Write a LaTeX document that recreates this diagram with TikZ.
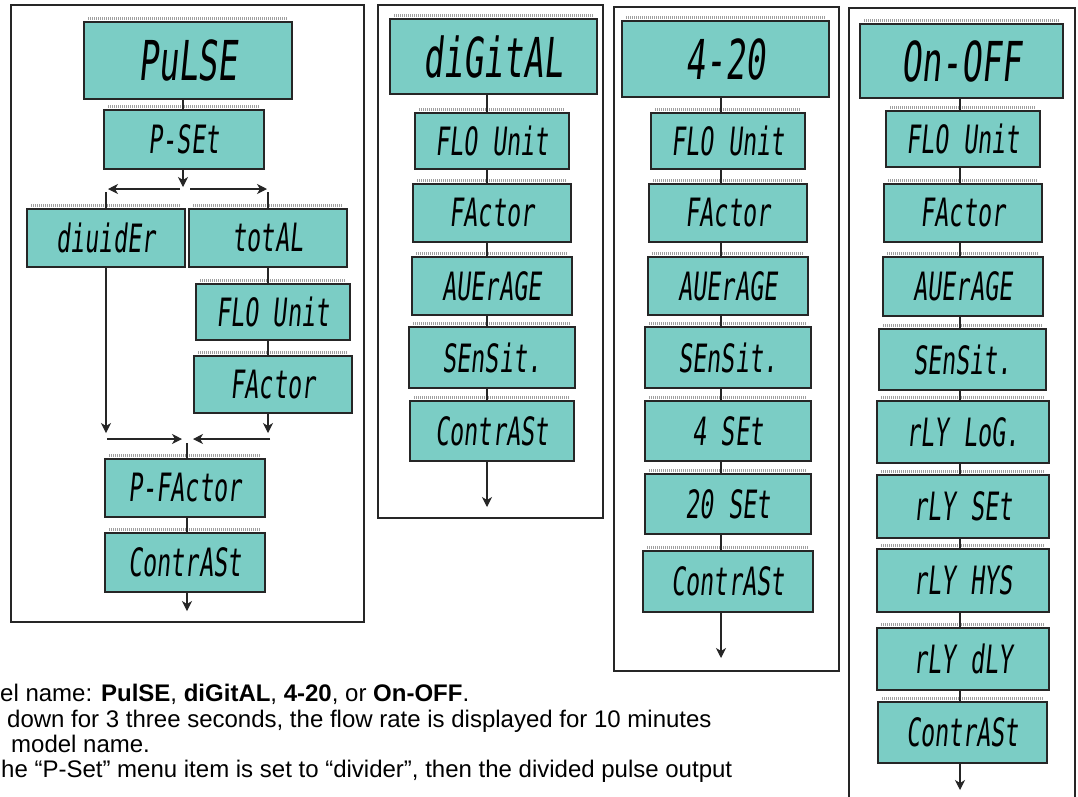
\documentclass[tikz,border=0pt]{standalone}
\usepackage{fontspec}
\setmainfont{Liberation Sans}
\newfontfamily\lcdfont{DejaVu Sans Mono}[FakeSlant=0.1,FakeStretch=0.6]
\usetikzlibrary{arrows.meta,calc}
\definecolor{lcdfill}{RGB}{123,205,197}
\definecolor{edge}{RGB}{38,38,38}
\tikzset{
  lcd/.style={draw=edge, line width=1.4pt, fill=lcdfill, inner sep=0pt,
    font=\lcdfont\fontsize{39}{39}\selectfont},
  lcdbig/.style={lcd, font=\lcdfont\fontsize{55}{55}\selectfont},
  panel/.style={draw=edge, line width=1.2pt},
  link/.style={draw=edge, line width=1.1pt},
  arr/.style={link, -{Stealth[length=10pt,width=10pt,inset=3pt]}},
  hatch/.style={draw=gray!75, line width=2.5pt, dash pattern=on 0.8pt off 1.2pt},
  note/.style={anchor=base west, inner sep=0pt, font=\fontsize{24}{26}\selectfont}
}
\newcommand{\lcdbox}[7][lcd]{%
  \node[#1, minimum width={(#5-#3)*1pt}, minimum height={(#6-#4)*1pt}]
    (#2) at ({(#3+#5)/2},{(#4+#6)/2}) {#7};
  \draw[hatch] ([xshift=5pt,yshift=3pt]#2.north west) -- ([xshift=-5pt,yshift=3pt]#2.north east);
}
\begin{document}
\begin{tikzpicture}[x=1pt,y=-1pt]
\useasboundingbox[fill=white] (0,0) rectangle (1078,796);

% ---------- panels
\draw[panel] (11,5) rectangle (364,622);
\draw[panel] (378,5) rectangle (603,518);
\draw[panel] (614,7) rectangle (839,671);
\draw[panel] (849,800) -- (849,8) -- (1075,8) -- (1075,800);

% ---------- panel 1 : PuLSE
\lcdbox[lcdbig]{pulse}{84}{22}{292}{99}{PuLSE}
\lcdbox{pset}{104}{110}{264}{169}{P-SEt}
\lcdbox{diuider}{27}{209}{185}{267}{diuidEr}
\lcdbox{total}{189}{209}{347}{267}{totAL}
\lcdbox{flo1}{196}{284}{350}{340}{FLO Unit}
\lcdbox{fac1}{194}{356}{352}{413}{FActor}
\lcdbox{pfac}{105}{459}{265}{517}{P-FActor}
\lcdbox{con1}{105}{533}{265}{592}{ContrASt}

\coordinate (c1) at (183,0);
\coordinate (split) at (183,187);
\draw[link] (pulse.south -| c1) -- (pset.north -| c1);
\draw[arr] (pset.south -| c1) -- (split);
\coordinate (sl0) at (180,189); \coordinate (sl1) at (108,189);
\coordinate (sr0) at (190,189); \coordinate (sr1) at (267,189);
\draw[arr] (sl0) -- (sl1);
\draw[arr] (sr0) -- (sr1);
\coordinate (dl) at (106,192); \coordinate (dr) at (268,192);
\draw[link] (dl) -- (dl |- diuider.north);
\draw[link] (dr) -- (dr |- total.north);
\coordinate (d1) at (106,433); \coordinate (d2) at (268,433);
\draw[arr] (diuider.south -| d1) -- (d1);
\draw[link] (total.south -| dr) -- (flo1.north -| dr);
\draw[link] (flo1.south -| dr) -- (fac1.north -| dr);
\draw[arr] (fac1.south -| d2) -- (d2);
\coordinate (ml0) at (107,439); \coordinate (ml1) at (182,439);
\coordinate (mr0) at (270,439); \coordinate (mr1) at (193,439);
\draw[arr] (ml0) -- (ml1);
\draw[arr] (mr0) -- (mr1);
\coordinate (mj) at (187,443);
\draw[link] (mj) -- (mj |- pfac.north);
\draw[link] (pfac.south -| mj) -- (con1.north -| mj);
\coordinate (e1) at (187,611);
\draw[arr] (con1.south -| e1) -- (e1);

% ---------- panel 2 : diGitAL
\lcdbox[lcdbig]{digital}{390}{19}{597}{94}{diGitAL}
\lcdbox{flo2}{415}{113}{569}{169}{FLO Unit}
\lcdbox{fac2}{413}{184}{571}{242}{FActor}
\lcdbox{avg2}{412}{257}{572}{315}{AUErAGE}
\lcdbox{sen2}{409}{327}{575}{388}{SEnSit.}
\lcdbox{con2}{410}{401}{574}{461}{ContrASt}
\coordinate (c2) at (487,0);
\coordinate (e2) at (487,507);
\draw[link] (digital.south -| c2) -- (flo2.north -| c2);
\draw[link] (flo2.south -| c2) -- (fac2.north -| c2);
\draw[link] (fac2.south -| c2) -- (avg2.north -| c2);
\draw[link] (avg2.south -| c2) -- (sen2.north -| c2);
\draw[link] (sen2.south -| c2) -- (con2.north -| c2);
\draw[arr] (con2.south -| c2) -- (e2);

% ---------- panel 3 : 4-20
\lcdbox[lcdbig]{fourtwenty}{622}{21}{829}{97}{4-20}
\lcdbox{flo3}{651}{113}{805}{169}{FLO Unit}
\lcdbox{fac3}{649}{184}{807}{242}{FActor}
\lcdbox{avg3}{648}{257}{808}{315}{AUErAGE}
\lcdbox{sen3}{645}{327}{811}{388}{SEnSit.}
\lcdbox{set4}{645}{401}{811}{461}{4 SEt}
\lcdbox{set20}{645}{474}{811}{534}{20 SEt}
\lcdbox{con3}{643}{551}{813}{612}{ContrASt}
\coordinate (c3) at (721,0);
\coordinate (e3) at (721,658);
\draw[link] (fourtwenty.south -| c3) -- (flo3.north -| c3);
\draw[link] (flo3.south -| c3) -- (fac3.north -| c3);
\draw[link] (fac3.south -| c3) -- (avg3.north -| c3);
\draw[link] (avg3.south -| c3) -- (sen3.north -| c3);
\draw[link] (sen3.south -| c3) -- (set4.north -| c3);
\draw[link] (set4.south -| c3) -- (set20.north -| c3);
\draw[link] (set20.south -| c3) -- (con3.north -| c3);
\draw[arr] (con3.south -| c3) -- (e3);

% ---------- panel 4 : On-OFF
\lcdbox[lcdbig]{onoff}{860}{24}{1063}{98}{On-OFF}
\lcdbox{flo4}{886}{111}{1040}{167}{FLO Unit}
\lcdbox{fac4}{884}{184}{1042}{242}{FActor}
\lcdbox{avg4}{883}{257}{1043}{316}{AUErAGE}
\lcdbox{sen4}{879}{329}{1046}{390}{SEnSit.}
\lcdbox{log4}{877}{401}{1049}{463}{rLY LoG.}
\lcdbox{rset}{877}{475}{1049}{538}{rLY SEt}
\lcdbox{rhys}{877}{549}{1049}{612}{rLY HYS}
\lcdbox{rdly}{877}{628}{1049}{690}{rLY dLY}
\lcdbox{con4}{878}{702}{1047}{763}{ContrASt}
\coordinate (c4) at (960,0);
\coordinate (e4) at (960,790);
\draw[link] (onoff.south -| c4) -- (flo4.north -| c4);
\draw[link] (flo4.south -| c4) -- (fac4.north -| c4);
\draw[link] (fac4.south -| c4) -- (avg4.north -| c4);
\draw[link] (avg4.south -| c4) -- (sen4.north -| c4);
\draw[link] (sen4.south -| c4) -- (log4.north -| c4);
\draw[link] (log4.south -| c4) -- (rset.north -| c4);
\draw[link] (rset.south -| c4) -- (rhys.north -| c4);
\draw[link] (rhys.south -| c4) -- (rdly.north -| c4);
\draw[link] (rdly.south -| c4) -- (con4.north -| c4);
\draw[arr] (con4.south -| c4) -- (e4);

% ---------- notes
\node[note] (n1) at (0,701) {el name: \textbf{PulSE}, \textbf{diGitAL}, \textbf{4-20}, or \textbf{On-OFF}.};
\node[note] (n2) at (7,727) {down for 3 three seconds, the flow rate is displayed for 10 minutes};
\node[note] (n3) at (11,752) {model name.};
\node[note] (n4) at (1,777) {he “P-Set” menu item is set to “divider”, then the divided pulse output};
\end{tikzpicture}
\end{document}
